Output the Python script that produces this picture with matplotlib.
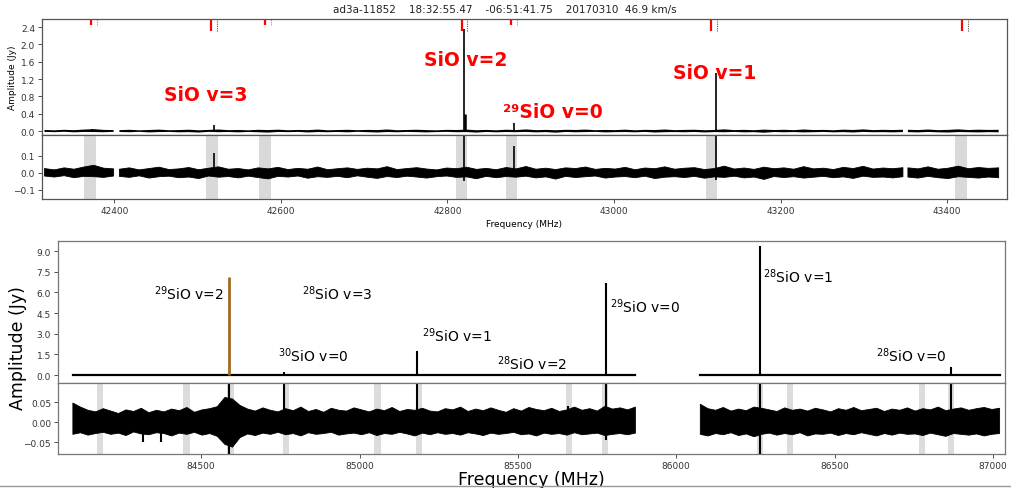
import numpy as np
import matplotlib
matplotlib.use("Agg")
import matplotlib.pyplot as plt

# ---------------- top figure (7 mm band) ----------------
title_txt = "ad3a-11852    18:32:55.47    -06:51:41.75    20170310  46.9 km/s"

top_line_freq = [42373, 42519, 42820, 42880, 43122]
top_line_peak = [0.05, 0.13, 2.35, 0.18, 1.33]
top_shoulder_freq = [42821]
top_shoulder_peak = [0.40]

# rest-frequency markers at the top of the plot
mark_long = [42516, 42817, 43117, 43418]
mark_short = [42372, 42581, 42876]

# masked windows in the residual panel
top_mask_freq = [42371, 42517, 42581, 42817, 42877, 43117, 43417]

# residual spikes
top_res_freq = [42519, 42820, 42880, 43122]
top_res_hi = [0.12, 0.25, 0.16, 0.25]
top_res_lo = [-0.01, -0.05, -0.01, -0.04]

# noise envelope of the residual, mJy, one list per data segment
top_seg_start = [42316, 42406, 43353]
top_seg_end = [42399, 43347, 43462]
top_env_hi = [
    [26, 18, 30, 22, 35, 45, 28, 24],
    [22, 30, 18, 26, 34, 20, 24, 32, 19, 28, 36, 22, 26, 18, 30, 24, 33, 20, 27, 22,
     35, 19, 25, 30, 21, 28, 24, 37, 20, 26, 31, 23, 18, 29, 25, 34, 21, 27, 19, 32,
     24, 38, 22, 28, 20, 30, 26, 35, 21, 27, 23, 33, 19, 29, 25, 36, 22, 28, 31, 20,
     26, 40, 23, 29, 21, 34, 25, 30, 22, 37, 24, 28, 20, 33, 26, 39, 23, 29, 25, 31],
    [30, 24, 36, 22, 28, 40, 25, 32, 27, 30],
]
top_env_lo = [
    [-18, -24, -16, -28, -20, -22, -26, -18],
    [-20, -26, -17, -30, -22, -19, -28, -24, -33, -18, -25, -21, -29, -19, -27, -35, -20, -24, -18, -31,
     -22, -26, -20, -28, -17, -25, -32, -21, -27, -19, -24, -30, -22, -18, -26, -23, -34, -20, -28, -21,
     -25, -19, -29, -23, -36, -20, -27, -22, -18, -30, -24, -21, -28, -19, -33, -25, -22, -27, -20, -31,
     -23, -26, -19, -29, -24, -38, -21, -27, -22, -30, -25, -20, -28, -23, -32, -19, -26, -24, -29, -22],
    [-24, -30, -20, -28, -33, -22, -26, -30, -24, -28],
]

top_labels = ["SiO v=3", "SiO v=2", "\u00b2\u2079SiO v=0", "SiO v=1"]
top_label_x = [42459, 42772, 42867, 43071]
top_label_y = [0.85, 1.66, 0.46, 1.36]

# ---------------- bottom figure (3 mm band) ----------------
bot_seg_start = [84095, 86076]
bot_seg_end = [85871, 87021]

bot_line_freq = [84588, 84762, 85182, 85659, 85779, 86263, 86869]
bot_line_peak = [7.13, 0.25, 1.76, 0.05, 6.68, 9.34, 0.55]

bot_mask_freq = [84180, 84454, 84593, 84768, 85057, 85187, 85661, 85776,
                 86265, 86359, 86776, 86868]

bot_res_freq = [84588, 84762, 85182, 85659, 85779, 86263, 86869, 84317, 84374]
bot_res_hi = [0.10, 0.10, 0.10, 0.04, 0.10, 0.10, 0.10, 0.0, 0.0]
bot_res_lo = [-0.08, -0.01, -0.02, -0.01, -0.045, -0.08, -0.02, -0.05, -0.05]

bot_env_hi = [
    [48, 38, 30, 26, 34, 28, 22, 31, 27, 35, 24, 30, 26, 33, 29, 37, 25, 31, 34, 39,
     62, 58, 42, 33, 28, 36, 30, 26, 34, 29, 38, 27, 32, 25, 35, 30, 28, 36, 31, 26,
     33, 29, 37, 27, 32, 30, 35, 28, 26, 34, 31, 38, 27, 33, 29, 36, 30, 25, 34, 28,
     37, 32, 29, 35, 27, 31, 38, 30, 34, 28, 40, 33, 36, 31, 38],
    [45, 34, 30, 37, 28, 33, 29, 38, 35, 31, 27, 36, 30, 33, 28, 35, 31, 26, 34, 30,
     37, 29, 32, 35, 27, 33, 30, 36, 28, 34, 31, 38, 29, 33, 36, 30, 34, 37, 32, 35],
]
bot_env_lo = [
    [-30, -26, -32, -28, -25, -30, -27, -33, -24, -29, -31, -26, -28, -34, -27, -30, -25, -32, -28, -35,
     -55, -62, -38, -29, -33, -27, -30, -25, -31, -28, -34, -26, -30, -28, -25, -32, -29, -27, -31, -26,
     -33, -28, -30, -25, -29, -34, -27, -31, -26, -30, -28, -32, -26, -29, -33, -27, -30, -28, -25, -31,
     -29, -34, -27, -30, -28, -32, -26, -31, -29, -27, -33, -30, -28, -31, -27],
    [-30, -34, -28, -31, -26, -33, -29, -36, -30, -27, -32, -28, -31, -26, -34, -29, -30, -27, -33, -28,
     -31, -26, -30, -34, -28, -32, -27, -30, -29, -33, -27, -31, -35, -28, -30, -32, -29, -34, -30, -28],
]

bot_labels = ["$^{29}$SiO v=2", "$^{28}$SiO v=3", "$^{30}$SiO v=0", "$^{29}$SiO v=1",
              "$^{28}$SiO v=2", "$^{29}$SiO v=0", "$^{28}$SiO v=1", "$^{28}$SiO v=0"]
bot_label_x = [84351, 84819, 84743, 85198, 85435, 85792, 86275, 86632]
bot_label_y = [5.52, 5.52, 1.02, 2.47, 0.44, 4.58, 6.75, 1.02]


def segments(starts, ends, his, los):
    # join the segments, with a nan between them so the band breaks
    f, h, l = [], [], []
    for s, e, hi, lo in zip(starts, ends, his, los):
        f += list(np.linspace(s, e, len(hi))) + [e + 1]
        h += list(np.array(hi) / 1000) + [np.nan]
        l += list(np.array(lo) / 1000) + [np.nan]
    return f, h, l


# ---------------- drawing ----------------
W, H = 1011, 489
fig = plt.figure(figsize=(W / 100, H / 100), dpi=100)


def box(l, r, t, b):
    return [l / W, 1 - b / H, (r - l) / W, (b - t) / H]


def style(ax, color, size):
    for s in ax.spines.values():
        s.set_color(color)
        s.set_linewidth(0.9)
    ax.tick_params(labelsize=size, length=3, width=0.6, colors="#333333", pad=2)


# top figure
ax1 = fig.add_axes(box(42, 1007, 20, 136))
ax2 = fig.add_axes(box(42, 1007, 136, 200), sharex=ax1)
fig.text(505 / W, 1 - 10 / H, title_txt, ha="center", va="center", fontsize=7.5, color="#222222")

tf, th, tl = segments(top_seg_start, top_seg_end, top_env_hi, top_env_lo)
ax1.fill_between(tf, tl, th, color="black", lw=0)
ax1.vlines(top_line_freq, 0, top_line_peak, color="black", lw=1.2)
ax1.vlines(top_shoulder_freq, 0, top_shoulder_peak, color="black", lw=1.8)
ax1.vlines(mark_long, 2.31, 2.585, color="red", lw=1.6)
ax1.vlines(np.array(mark_long) + 7, 2.31, 2.585, color="#555555", lw=0.8, linestyles=(0, (1, 1)))
ax1.vlines(mark_short, 2.45, 2.585, color="red", lw=1.6)
ax1.vlines(np.array(mark_short) + 7, 2.45, 2.585, color="#66aacc", lw=0.8, linestyles=(0, (1, 1)))
for t, x, y in zip(top_labels, top_label_x, top_label_y):
    ax1.text(x, y, t, color="red", fontsize=13.5, fontweight="bold", ha="left", va="center",
             family="DejaVu Sans")
ax1.set_xlim(42313, 43472)
ax1.set_ylim(-0.09, 2.585)
ax1.set_yticks([0.0, 0.4, 0.8, 1.2, 1.6, 2.0, 2.4])
ax1.set_ylabel("Amplitude (Jy)", fontsize=6.5, labelpad=3)
ax1.tick_params(axis="x", bottom=False, labelbottom=False)
style(ax1, "#555555", 6.5)

for f in top_mask_freq:
    ax2.axvspan(f - 7, f + 7, color="#d9d9d9", lw=0)
ax2.fill_between(tf, tl, th, color="black", lw=0.6)
ax2.vlines(top_res_freq, top_res_lo, top_res_hi, color="black", lw=1.2)
ax2.set_ylim(-0.153, 0.223)
ax2.set_yticks([-0.1, 0.0, 0.1])
ax2.set_xticks([42400, 42600, 42800, 43000, 43200, 43400])
ax2.set_xlabel("Frequency (MHz)", fontsize=6.5, labelpad=3)
style(ax2, "#555555", 6.5)

# bottom figure
ax3 = fig.add_axes(box(58, 1005, 242, 384))
ax4 = fig.add_axes(box(58, 1005, 384, 455), sharex=ax3)

for s, e in zip(bot_seg_start, bot_seg_end):
    ax3.plot([s, e], [0, 0], color="black", lw=1.6)
line_colors = ["#a0691f"] + ["black"] * (len(bot_line_freq) - 1)
line_widths = [2.0] + [1.5] * (len(bot_line_freq) - 1)
ax3.vlines(bot_line_freq, 0, bot_line_peak, colors=line_colors, linewidths=line_widths)
for t, x, y in zip(bot_labels, bot_label_x, bot_label_y):
    ax3.text(x, y, t, color="black", fontsize=10, ha="left", va="baseline")
ax3.set_xlim(84048, 87038)
ax3.set_ylim(-0.58, 9.73)
ax3.set_yticks([0.0, 1.5, 3.0, 4.5, 6.0, 7.5, 9.0])
ax3.tick_params(axis="x", bottom=False, labelbottom=False)
style(ax3, "#777777", 6.5)

bf, bh, bl = segments(bot_seg_start, bot_seg_end, bot_env_hi, bot_env_lo)
for f in bot_mask_freq:
    ax4.axvspan(f - 10, f + 10, color="#dcdcdc", lw=0)
ax4.fill_between(bf, bl, bh, color="black", lw=0.6)
ax4.vlines(bot_res_freq, bot_res_lo, bot_res_hi, color="black", lw=1.5)
ax4.set_ylim(-0.079, 0.098)
ax4.set_yticks([-0.05, 0.0, 0.05])
ax4.set_yticklabels(["\u22120.05", "0.00", "0.05"])
ax4.set_xticks([84500, 85000, 85500, 86000, 86500, 87000])
ax4.set_xlabel("Frequency (MHz)", fontsize=12.5, labelpad=0)
style(ax4, "#777777", 6.5)

fig.text(18 / W, 1 - 348 / H, "Amplitude (Jy)", rotation=90, ha="center", va="center", fontsize=12.5)
fig.add_artist(plt.Line2D([0, 1], [1 - 487 / H, 1 - 487 / H], color="#999999", lw=1.0))

fig.savefig("out.png", dpi=100)
